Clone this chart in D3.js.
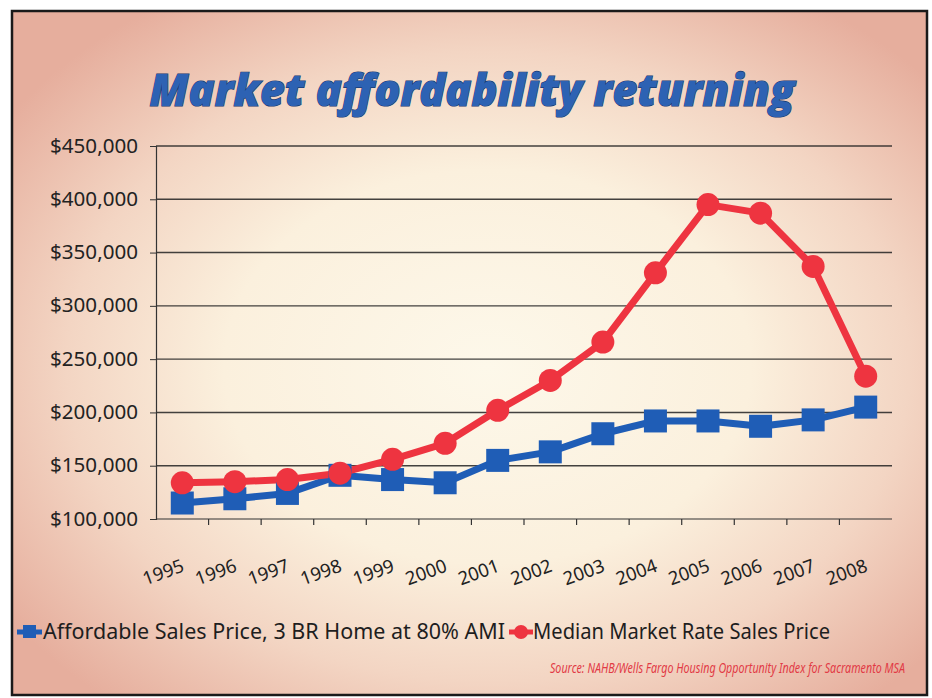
<!DOCTYPE html>
<html>
<head>
<meta charset="utf-8">
<script src="https://cdn.jsdelivr.net/npm/d3@7"></script>
<style>
  html, body { margin: 0; padding: 0; background: #ffffff; }
  svg { display: block; }
</style>
</head>
<body>
<svg id="chart" width="932" height="698"></svg>
<script>
// Sacramento MSA: affordable vs. median market sales price, 1995-2008
const years = ["1995","1996","1997","1998","1999","2000","2001","2002","2003","2004","2005","2006","2007","2008"];
const affordablePrice = [115000,119000,124000,141000,137000,134000,155000,163000,180000,192000,192000,187000,193000,205000];
const medianPrice     = [134000,135000,137000,143000,156000,171000,202000,230000,266000,331000,395000,387000,337000,234000];
const yTicks = [100000,150000,200000,250000,300000,350000,400000,450000];
const seriesNames = ["Affordable Sales Price, 3 BR Home at 80% AMI", "Median Market Rate Sales Price"];
const titleText = "Market affordability returning";
const sourceText = "Source: NAHB/Wells Fargo Housing Opportunity Index for Sacramento MSA";

const svg = d3.select("#chart");
const blue = "#1f5db6", red = "#ee3440";
const bodyFont = "'Noto Sans', 'Open Sans', sans-serif";

// background panel with soft radial shading
const defs = svg.append("defs");
const grad = defs.append("radialGradient").attr("id", "bg")
  .attr("cx", "0.52").attr("cy", "0.52").attr("r", "0.64");
[[0, "#fdf8ea"], [0.45, "#fbf0dd"], [0.72, "#f3d5c3"], [1, "#e6ae9d"]]
  .forEach(([o, c]) => grad.append("stop").attr("offset", o).attr("stop-color", c));

svg.append("rect").attr("x", 12).attr("y", 11).attr("width", 915).attr("height", 684)
  .attr("fill", "url(#bg)").attr("stroke", "#1a1a1a").attr("stroke-width", 2.5);

// plot area
const plotLeft = 156, plotRight = 892, plotTop = 146, plotBottom = 519;
const x = d3.scalePoint().domain(years).range([plotLeft, plotRight]).padding(0.5);
const step = x.step();
const y = d3.scaleLinear().domain([100000, 450000]).range([plotBottom, plotTop]);

// horizontal gridlines
svg.append("g").selectAll("line").data(yTicks.slice(1)).join("line")
  .attr("x1", plotLeft).attr("x2", plotRight)
  .attr("y1", d => y(d)).attr("y2", d => y(d))
  .attr("stroke", "#222").attr("stroke-width", 1.4).attr("stroke-opacity", 0.85);

// y axis
const yAxis = svg.append("g").attr("transform", `translate(${plotLeft},0)`)
  .call(d3.axisLeft(y).tickValues(yTicks).tickSize(6).tickPadding(12)
    .tickFormat(d => "$" + d3.format(",")(d)));
yAxis.select(".domain").attr("stroke", "#333").attr("stroke-width", 1.2);
yAxis.selectAll(".tick line").attr("stroke", "#333");
yAxis.selectAll(".tick text")
  .attr("font-family", bodyFont)
  .attr("font-size", 19).attr("fill", "#222")
  .attr("textLength", 88).attr("lengthAdjust", "spacingAndGlyphs");

// x axis: ticks on category boundaries, rotated labels
svg.append("line").attr("x1", plotLeft).attr("x2", plotRight).attr("y1", plotBottom).attr("y2", plotBottom)
  .attr("stroke", "#333").attr("stroke-width", 1.2);
svg.append("g").selectAll("line").data(years.slice(1)).join("line")
  .attr("x1", d => x(d) - step / 2).attr("x2", d => x(d) - step / 2)
  .attr("y1", plotBottom).attr("y2", plotBottom + 6)
  .attr("stroke", "#333").attr("stroke-width", 1.2);
svg.append("g").selectAll("text").data(years).join("text")
  .attr("transform", d => `translate(${x(d) + 3},${plotBottom + 52}) rotate(-20)`)
  .attr("text-anchor", "end")
  .attr("font-family", bodyFont)
  .attr("font-size", 18.5).attr("fill", "#222")
  .text(d => d);

// series lines and markers
const line = d3.line().x((d, i) => x(years[i])).y(d => y(d));
svg.append("path").datum(affordablePrice).attr("d", line)
  .attr("fill", "none").attr("stroke", blue).attr("stroke-width", 7).attr("stroke-linejoin", "round");
svg.append("path").datum(medianPrice).attr("d", line)
  .attr("fill", "none").attr("stroke", red).attr("stroke-width", 7).attr("stroke-linejoin", "round");

svg.append("g").selectAll("rect").data(affordablePrice).join("rect")
  .attr("x", (d, i) => x(years[i]) - 11.5).attr("y", d => y(d) - 11.5)
  .attr("width", 23).attr("height", 23).attr("fill", blue);
svg.append("g").selectAll("circle").data(medianPrice).join("circle")
  .attr("cx", (d, i) => x(years[i])).attr("cy", d => y(d)).attr("r", 11.5)
  .attr("fill", red);

// title
svg.append("text").attr("x", 472).attr("y", 106).attr("text-anchor", "middle")
  .attr("font-family", "'Open Sans', 'Noto Sans', sans-serif")
  .attr("font-weight", 800).attr("font-style", "italic").attr("font-size", 44)
  .attr("textLength", 645).attr("lengthAdjust", "spacingAndGlyphs")
  .attr("fill", "#2d62b3").attr("stroke", "#17386f").attr("stroke-width", 1.2)
  .attr("paint-order", "stroke")
  .text(titleText);

// legend
const lg = svg.append("g").attr("font-family", bodyFont)
  .attr("font-size", 21).attr("fill", "#1e1e1e");
lg.append("line").attr("x1", 17).attr("x2", 42).attr("y1", 632).attr("y2", 632)
  .attr("stroke", blue).attr("stroke-width", 5);
lg.append("rect").attr("x", 23).attr("y", 625).attr("width", 13).attr("height", 13).attr("fill", blue);
lg.append("text").attr("x", 43).attr("y", 639).attr("textLength", 462)
  .attr("lengthAdjust", "spacingAndGlyphs").text(seriesNames[0]);
lg.append("line").attr("x1", 509).attr("x2", 533).attr("y1", 632).attr("y2", 632)
  .attr("stroke", red).attr("stroke-width", 5);
lg.append("circle").attr("cx", 521).attr("cy", 632).attr("r", 7).attr("fill", red);
lg.append("text").attr("x", 533).attr("y", 639).attr("textLength", 297)
  .attr("lengthAdjust", "spacingAndGlyphs").text(seriesNames[1]);

// source note, horizontally condensed
svg.append("g").attr("transform", "translate(905,673) scale(0.74,1)")
  .append("text").attr("x", 0).attr("y", 0).attr("text-anchor", "end")
  .attr("font-family", bodyFont)
  .attr("font-style", "italic").attr("font-size", 14.5)
  .attr("fill", "#e23a45").text(sourceText);
</script>
</body>
</html>
